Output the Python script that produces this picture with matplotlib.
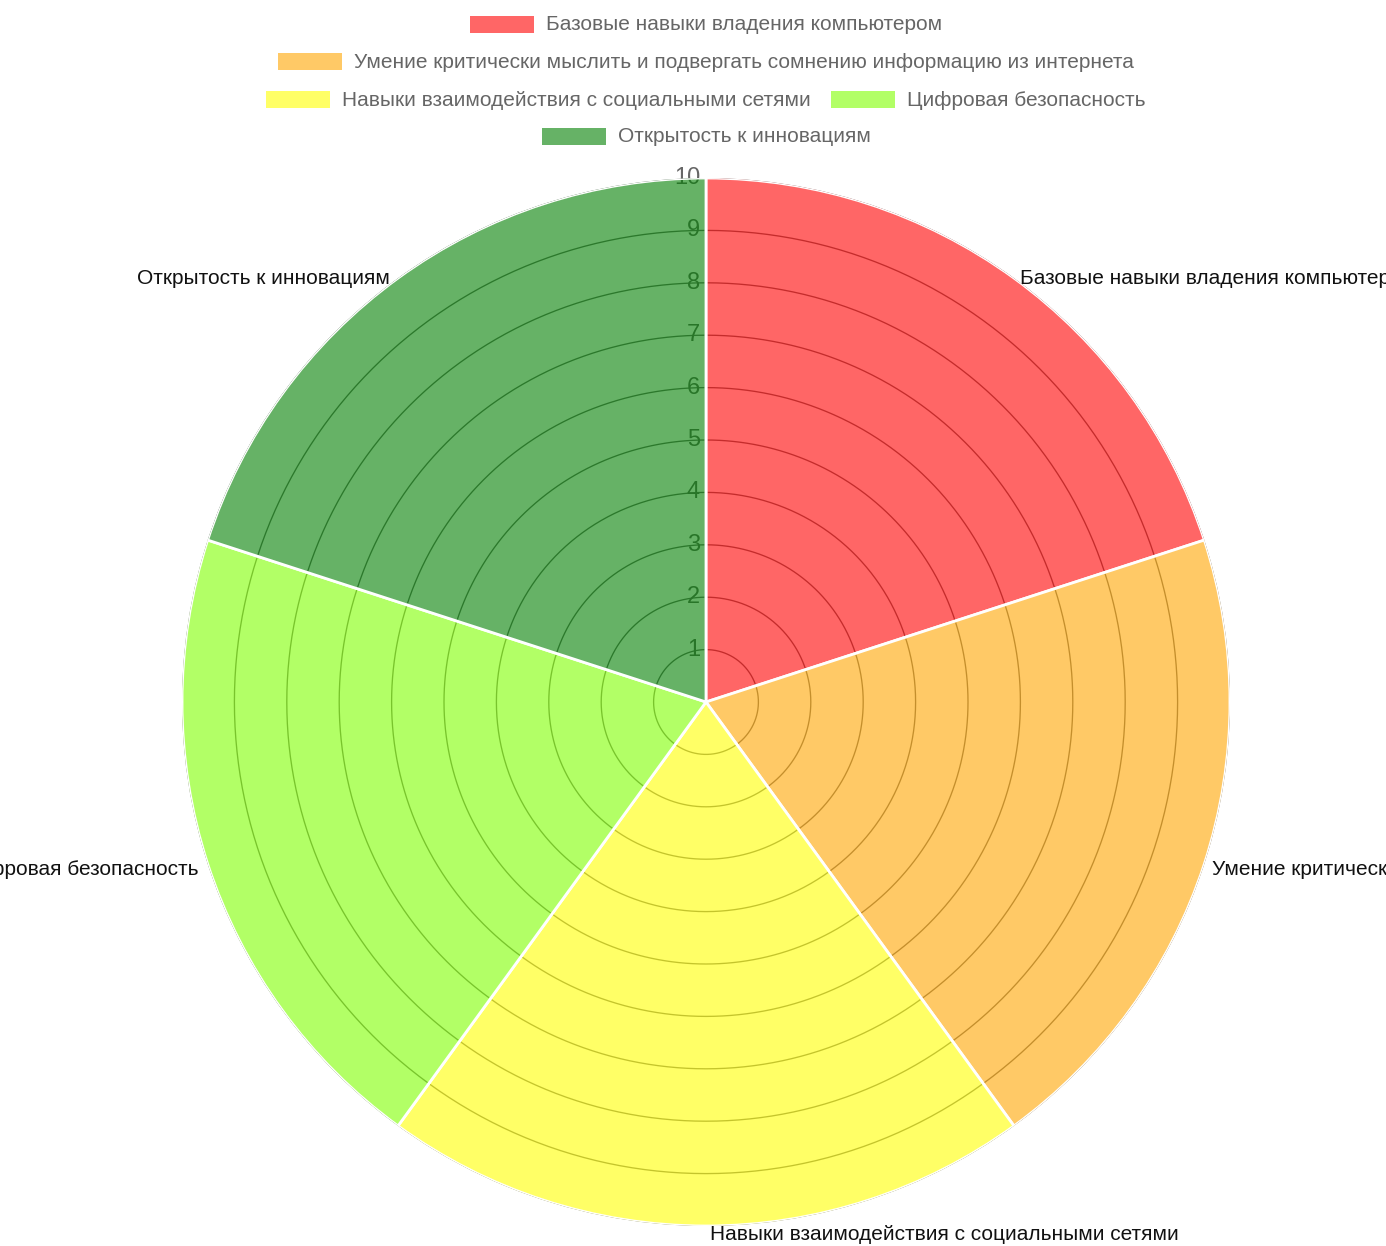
import numpy as np
import matplotlib
matplotlib.use("Agg")
import matplotlib.pyplot as plt
from matplotlib.patches import Rectangle

plt.rcParams['font.family'] = ['Liberation Sans', 'DejaVu Sans']

# ---- data ----
categories = [
    "Базовые навыки владения компьютером",
    "Умение критически мыслить и подвергать сомнению информацию из интернета",
    "Навыки взаимодействия с социальными сетями",
    "Цифровая безопасность",
    "Открытость к инновациям",
]
values = [10, 10, 10, 10, 10]
r_ticks = [1, 2, 3, 4, 5, 6, 7, 8, 9, 10]
base_colors = [(255, 0, 0), (255, 165, 0), (255, 255, 0), (127, 255, 0), (0, 128, 0)]

W, H, DPI = 1386, 1246, 100
fig = plt.figure(figsize=(W / DPI, H / DPI), dpi=DPI)
fig.patch.set_facecolor('white')

FS = 15.0
cx, cy, R = 706, 702, 524
ax = fig.add_axes([(cx - R) / W, (H - cy - R) / H, 2 * R / W, 2 * R / H], projection='polar')
ax.set_theta_zero_location('N')
ax.set_theta_direction(-1)
ax.set_ylim(0, max(r_ticks))
ax.grid(False)
ax.set_xticks([])
ax.set_yticks([])
ax.spines['polar'].set_visible(False)
ax.patch.set_alpha(0)

n = len(categories)
step = 2 * np.pi / n
theta = np.arange(n) * step
colors = [(r / 255, g / 255, b / 255, 0.6) for r, g, b in base_colors]

# grid circles (drawn under wedges)
tt = np.linspace(0, 2 * np.pi, 721)
for r in r_ticks:
    ax.plot(tt, np.full_like(tt, r), color='#6e6e6e', lw=0.95, zorder=1)

# tick labels (under wedges)
for r in r_ticks:
    ax.annotate(str(r), xy=(0, r), xytext=(-6, 0), textcoords='offset pixels',
                ha='right', va='center', fontsize=17, color='#666666',
                zorder=1, annotation_clip=False)

ax.bar(theta, values, width=step, align='edge', bottom=0, color=colors,
       edgecolor='white', linewidth=2.0, zorder=2)

# point labels
offsets = [(6, 0), (8, -6), (4, -9), (-9, -6), (-8, 0)]
aligns = ['left', 'left', 'left', 'right', 'right']
for i, lab in enumerate(categories):
    ang = theta[i] + step / 2
    ax.annotate(lab, xy=(ang, max(r_ticks)), xytext=offsets[i], textcoords='offset pixels',
                ha=aligns[i], va='center', fontsize=FS, color='#111111',
                annotation_clip=False, zorder=5)

# legend in pixel coordinates
lax = fig.add_axes([0, 0, 1, 1])
lax.set_xlim(0, W)
lax.set_ylim(H, 0)
lax.axis('off')
lax.patch.set_alpha(0)

rows = [[0], [1], [2, 3], [4]]
row_y = [25, 62, 100, 137]
box_w, box_h, pad, gap = 64, 17, 12, 20
renderer = fig.canvas.get_renderer()
for row, yc in zip(rows, row_y):
    texts = []
    widths = []
    for i in row:
        t = lax.text(0, yc, categories[i], ha='left', va='center', fontsize=FS, color='#666666')
        bb = t.get_window_extent(renderer=renderer)
        texts.append(t)
        widths.append(bb.width)
    total = sum(box_w + pad + w for w in widths) + gap * (len(row) - 1)
    x = cx - total / 2
    for i, t, w in zip(row, texts, widths):
        lax.add_patch(Rectangle((x, yc - 1 - box_h / 2), box_w, box_h, facecolor=colors[i],
                                edgecolor='none'))
        t.set_x(x + box_w + pad)
        x += box_w + pad + w + gap

fig.savefig('out.png', dpi=DPI)
